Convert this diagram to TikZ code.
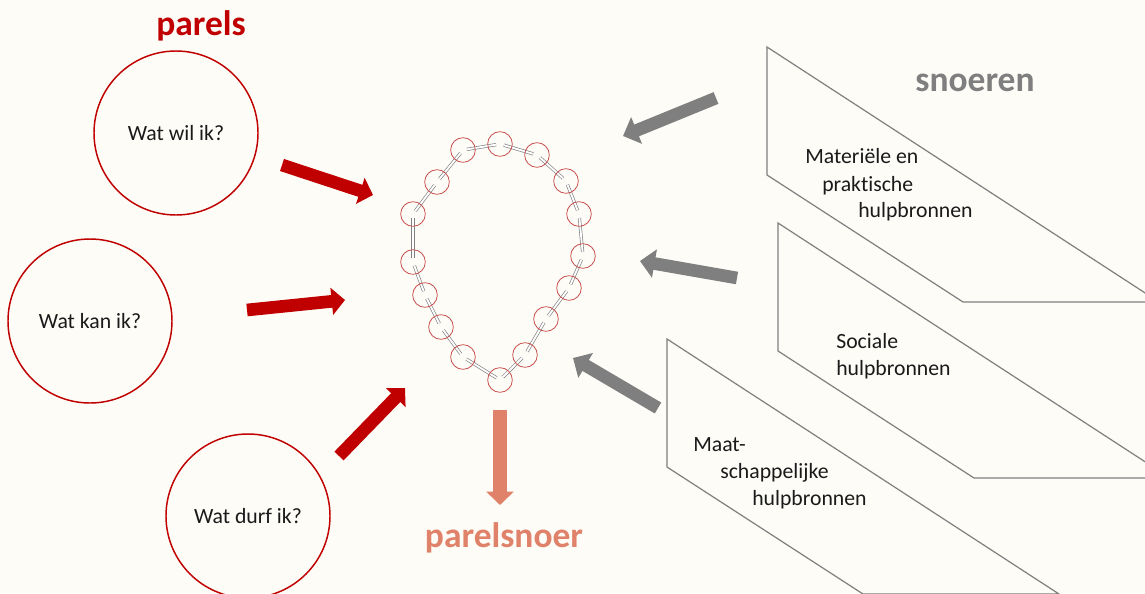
\documentclass[tikz,border=0pt]{standalone}
\usepackage{fontspec}
\setmainfont{Carlito}[Ligatures=NoCommon]
\usetikzlibrary{arrows.meta}
\definecolor{bg}{HTML}{FDFCF7}
\definecolor{pred}{HTML}{C00000}
\definecolor{sgray}{HTML}{7F7F7F}
\definecolor{salmon}{HTML}{E0826A}
\definecolor{beadc}{HTML}{C85050}
\definecolor{txt}{HTML}{1A1A1A}
\begin{document}
\begin{tikzpicture}[x=0.75pt,y=-0.75pt,
  pearl/.style={circle,draw=pred,line width=1.1pt,minimum size=123pt,inner sep=0pt,
    text=txt,font=\fontsize{16.3}{20}\selectfont},
  bead/.style={circle,draw=beadc,line width=0.6pt,minimum size=18.5pt,inner sep=0pt},
  link/.style={draw=gray,line width=0.5pt,double=white,double distance=1.4pt,
    shorten <=3pt,shorten >=3pt},
  title/.style={font=\fontsize{26.6}{30}\selectfont\bfseries,inner sep=0pt,anchor=base},
  label/.style={font=\fontsize{16.3}{20}\selectfont,text=txt,inner sep=0pt,anchor=base west},
  redarrow/.style={draw=pred,line width=9.5pt,-{Triangle[length=10pt,width=20pt]}},
  grayarrow/.style={draw=sgray,line width=9.5pt,-{Triangle[length=11pt,width=21pt]}},
  salarrow/.style={draw=salmon,line width=10pt,-{Triangle[length=10pt,width=20pt]}},
  shelf/.style={draw=sgray,line width=0.9pt,fill=bg,line join=miter}
]
\useasboundingbox (0,0) rectangle (1145,593);
\fill[bg] (0,0) rectangle (1145,593);
\begin{scope}
\clip (0,0) rectangle (1145,593);

% shelves (snoeren)
\draw[shelf] (767,47) -- ++(0,128) -- ++(196,127) -- ++(196,0) -- cycle;
\draw[shelf] (778,223) -- ++(0,128) -- ++(196,127) -- ++(196,0) -- cycle;
\draw[shelf] (667,339) -- ++(0,128) -- ++(196,127) -- ++(196,0) -- cycle;

% titles
\node[title,text=pred] (tparels) at (201,35) {parels};
\node[title,text=sgray] (tsnoeren) at (975,91) {snoeren};
\node[title,text=salmon] (tsnoer) at (504,547) {parelsnoer};

% pearls
\node[pearl] (w1) at (176,133) {Wat wil ik?};
\node[pearl] (w2) at (90,321) {Wat kan ik?};
\node[pearl] (w3) at (248,516) {Wat durf ik?};

% labels in shelves
\node[label] (m1) at (805,163) {Materiële en};
\node[label] (m2) at (822,191) {praktische};
\node[label] (m3) at (858,217) {hulpbronnen};
\node[label] (s1) at (836,348) {Sociale};
\node[label] (s2) at (836,375) {hulpbronnen};
\node[label] (q1) at (693,451) {Maat-};
\node[label] (q2) at (720,478) {schappelijke};
\node[label] (q3) at (752,505) {hulpbronnen};

% necklace
\foreach \n/\x/\y in {1/463/150,2/500/144,3/537/155,4/566/181,5/579/214,6/583/256,
  7/569/288,8/546/319,9/525/355,10/500/380,11/463/357,12/441/327,13/425/295,
  14/413/262,15/413/214,16/437/182}
  \coordinate (c\n) at (\x,\y);
\foreach \a/\b in {1/2,2/3,3/4,4/5,5/6,6/7,7/8,8/9,9/10,10/11,11/12,12/13,13/14,14/15,15/16,16/1}
  \draw[link] (c\a) -- (c\b);
\foreach \n in {1,...,16}
  \node[bead] (b\n) at (c\n) {};

% arrow end points
\coordinate (ra1) at (282,165); \coordinate (rb1) at (373,195);
\coordinate (ra2) at (247,310); \coordinate (rb2) at (345,300);
\coordinate (ra3) at (339,456); \coordinate (rb3) at (405,388);
\coordinate (ga1) at (716,98);  \coordinate (gb1) at (623,136);
\coordinate (ga2) at (737,278); \coordinate (gb2) at (640,261);
\coordinate (ga3) at (658,408); \coordinate (gb3) at (573,358);
\coordinate (sa) at (500,410);  \coordinate (sb) at (500,505);

\draw[redarrow] (ra1) -- (rb1);
\draw[redarrow] (ra2) -- (rb2);
\draw[redarrow] (ra3) -- (rb3);
\draw[grayarrow] (ga1) -- (gb1);
\draw[grayarrow] (ga2) -- (gb2);
\draw[grayarrow] (ga3) -- (gb3);
\draw[salarrow] (sa) -- (sb);
\end{scope}
\end{tikzpicture}
\end{document}
